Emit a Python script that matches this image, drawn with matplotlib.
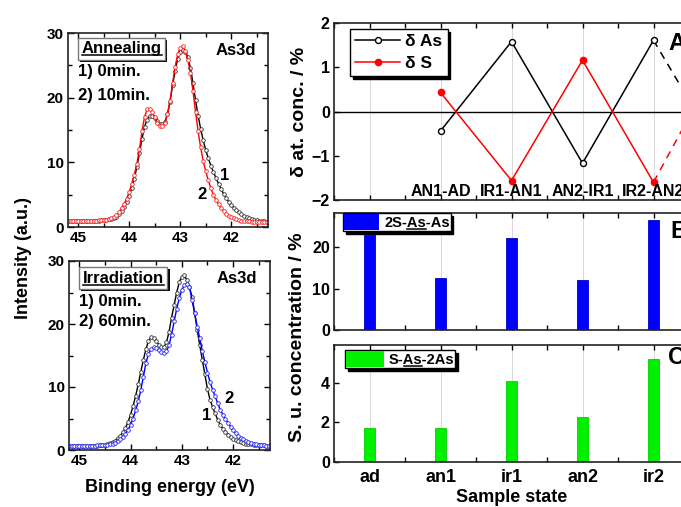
import numpy as np
import matplotlib
matplotlib.use('Agg')
import matplotlib.pyplot as plt
import matplotlib.patheffects as pe
from matplotlib.ticker import MultipleLocator
from matplotlib.lines import Line2D
from matplotlib.patches import Patch
from matplotlib.transforms import IdentityTransform

plt.rcParams['font.family'] = ['Liberation Sans', 'DejaVu Sans']
plt.rcParams['font.weight'] = 'bold'
plt.rcParams['axes.labelweight'] = 'bold'

# ---------------- data ----------------
# binding energy grid of the As3d spectra (eV), 45.20 -> 41.30 in 0.05 eV steps
energy = np.linspace(45.20, 41.30, 79)

anneal_0min = [0.90, 0.90, 0.90, 0.90, 0.90, 0.91, 0.91, 0.92, 0.93, 0.94, 0.96, 0.98, 1.00,
               1.03, 1.07, 1.12, 1.18, 1.28, 1.42, 1.62, 1.95, 2.40, 3.05, 3.85, 4.80,
               6.00, 7.50, 9.30, 11.40, 13.60, 15.50, 16.60, 17.15, 17.20, 16.90, 16.40, 16.00,
               15.90, 16.30, 17.50, 19.40, 21.90, 24.20, 26.00, 27.10,
               27.40, 27.10, 26.30, 24.60, 22.20, 19.60, 17.20, 15.20, 13.40, 11.90, 10.60, 9.50,
               8.50, 7.60, 6.70, 5.90, 5.10, 4.50, 3.90, 3.40,
               3.00, 2.60, 2.25, 1.95, 1.70, 1.50, 1.35, 1.22, 1.12, 1.03, 0.96, 0.90, 0.86, 0.83]
anneal_10min = [0.90, 0.90, 0.90, 0.90, 0.91, 0.91, 0.92, 0.93, 0.94, 0.96, 0.98, 1.00, 1.03,
                1.07, 1.11, 1.15, 1.20, 1.35, 1.55, 1.85, 2.30, 2.90, 3.60, 4.40, 5.40,
                6.70, 8.10, 9.80, 12.00, 14.80, 17.00, 18.20, 18.30, 17.80, 17.00, 16.10, 15.60,
                15.60, 16.10, 17.40, 19.50, 22.30, 24.80, 26.70, 27.70,
                28.00, 27.20, 25.80, 23.80, 21.00, 17.80, 14.80, 12.30, 10.20, 8.60, 7.20, 6.00,
                5.00, 4.20, 3.50, 2.90, 2.45, 2.05, 1.75, 1.50,
                1.32, 1.18, 1.08, 1.00, 0.95, 0.90, 0.86, 0.83, 0.80, 0.78, 0.76, 0.74, 0.73, 0.72]
irrad_0min = [0.60, 0.60, 0.60, 0.60, 0.61, 0.61, 0.62, 0.63, 0.64, 0.65, 0.66, 0.68, 0.72,
              0.78, 0.85, 0.95, 1.08, 1.25, 1.50, 1.90, 2.30, 2.80, 3.50, 4.40, 5.60,
              7.00, 8.60, 10.40, 12.40, 14.30, 16.00, 17.30, 17.90, 17.80, 17.30, 16.70, 16.30,
              16.30, 17.10, 18.70, 21.00, 23.00, 25.00, 26.60, 27.50,
              27.70, 27.00, 25.80, 24.30, 21.80, 19.10, 16.60, 14.30, 12.00, 9.70, 8.00, 6.80,
              5.80, 4.80, 4.00, 3.40, 2.90, 2.45, 2.10, 1.80,
              1.58, 1.40, 1.25, 1.12, 1.02, 0.95, 0.88, 0.83, 0.79, 0.76, 0.74, 0.72, 0.70, 0.69]
irrad_60min = [0.65, 0.65, 0.65, 0.65, 0.66, 0.66, 0.67, 0.68, 0.69, 0.70, 0.71, 0.72, 0.74,
               0.77, 0.81, 0.86, 0.92, 1.02, 1.18, 1.45, 1.75, 2.10, 2.60, 3.20, 4.00,
               5.00, 6.30, 7.70, 9.50, 11.60, 13.80, 15.30, 16.00, 16.30, 16.20, 15.80, 15.50,
               15.40, 15.70, 16.60, 18.30, 20.40, 22.40, 24.10, 25.40,
               26.20, 26.40, 25.80, 23.80, 21.70, 19.60, 17.70, 15.70, 14.00, 12.30, 10.80, 9.60,
               8.50, 7.40, 6.40, 5.60, 4.90, 4.30, 3.70, 3.10,
               2.65, 2.25, 1.95, 1.68, 1.45, 1.27, 1.13, 1.02, 0.92, 0.85, 0.78, 0.72, 0.68, 0.65]

# panel A: change of atomic concentration between consecutive states
transitions = ['AN1-AD', 'IR1-AN1', 'AN2-IR1', 'IR2-AN2']
trans_pos = [1, 2, 3, 4]
delta_as = [-0.44, 1.58, -1.17, 1.61]
delta_s = [0.43, -1.56, 1.16, -1.60]
# continuation (dashed) towards the next, off-canvas transition
next_pos = 5
delta_as_next = -1.1
delta_s_next = 1.35

# panels B and C: structural unit concentration per sample state
states = ['ad', 'an1', 'ir1', 'an2', 'ir2']
state_pos = [0, 1, 2, 3, 4]
conc_2s_as_as = [22.9, 12.5, 22.3, 12.1, 26.5]
conc_s_as_2as = [1.72, 1.69, 4.10, 2.28, 5.20]

W, H = 681, 507
fig = plt.figure(figsize=(W / 100, H / 100), dpi=100)


def px_axes(x0, y0, x1, y1):
    return fig.add_axes([x0 / W, 1 - y1 / H, (x1 - x0) / W, (y1 - y0) / H])


def style_spec(ax):
    ax.set_xlim(45.2, 41.28)
    ax.set_ylim(0, 30)
    ax.xaxis.set_major_locator(MultipleLocator(1))
    ax.xaxis.set_minor_locator(MultipleLocator(0.5))
    ax.yaxis.set_major_locator(MultipleLocator(10))
    ax.yaxis.set_minor_locator(MultipleLocator(5))
    ax.tick_params(which='both', direction='in', top=True, right=True,
                   width=1, labelsize=11, pad=3, colors='black')
    ax.tick_params(which='major', length=4)
    ax.tick_params(which='minor', length=3)
    for s in ax.spines.values():
        s.set_linewidth(1.2)
        s.set_color('#222222')


# underlines to be added after layout: (text artist, prefix before underlined part, underlined part)
underlines = []


def boxed_title(ax, x, y, s):
    t = ax.text(x, y, s, transform=ax.transAxes, ha='left', va='center',
                fontsize=12, fontweight='bold',
                bbox=dict(boxstyle='square,pad=0.22', fc='white', ec='#777777', lw=1.0))
    t.get_bbox_patch().set_path_effects(
        [pe.SimplePatchShadow(offset=(1.5, -1.5), shadow_rgbFace='black', alpha=1.0), pe.Normal()])
    underlines.append((t, '', s))
    return t


spec_kw = dict(lw=1.0, marker='o', ms=2.6, mfc='white', mew=0.6)

# ---------------- left top: annealing ----------------
ax1 = px_axes(68, 33, 268, 227)
ax1.plot(energy, anneal_0min, color='black', mec='#333333', **spec_kw)
ax1.plot(energy, anneal_10min, color='#ff0000', mec='#ff2020', **spec_kw)
style_spec(ax1)
boxed_title(ax1, 0.068, 0.918, 'Annealing')
ax1.text(0.05, 0.80, '1) 0min.', transform=ax1.transAxes, fontsize=12, va='center')
ax1.text(0.05, 0.68, '2) 10min.', transform=ax1.transAxes, fontsize=12, va='center')
ax1.text(0.94, 0.912, 'As3d', transform=ax1.transAxes, fontsize=12, ha='right', va='center')
ax1.text(42.13, 8.0, '1', fontsize=12, ha='center', va='center')
ax1.text(42.58, 4.95, '2', fontsize=12, ha='center', va='center')

# ---------------- left bottom: irradiation ----------------
ax2 = px_axes(69, 261, 270, 450)
ax2.plot(energy, irrad_0min, color='black', mec='#333333', **spec_kw)
ax2.plot(energy, irrad_60min, color='#0000ff', mec='#2020ff', **spec_kw)
style_spec(ax2)
boxed_title(ax2, 0.068, 0.91, 'Irradiation')
ax2.text(0.05, 0.785, '1) 0min.', transform=ax2.transAxes, fontsize=12, va='center')
ax2.text(0.05, 0.68, '2) 60min.', transform=ax2.transAxes, fontsize=12, va='center')
ax2.text(0.935, 0.908, 'As3d', transform=ax2.transAxes, fontsize=12, ha='right', va='center')
ax2.text(42.07, 8.2, '2', fontsize=12, ha='center', va='center')
ax2.text(42.52, 5.55, '1', fontsize=12, ha='center', va='center')

fig.text(24 / W, 1 - 258 / H, 'Intensity (a.u.)', rotation=90, ha='center', va='center', fontsize=13)
fig.text(170 / W, 1 - 487 / H, 'Binding energy (eV)', ha='center', va='center', fontsize=13)


# ---------------- right panels ----------------
def style_right(ax):
    ax.set_xlim(-0.5, 5.5)
    ax.xaxis.set_major_locator(MultipleLocator(1))
    ax.xaxis.set_minor_locator(MultipleLocator(0.5))
    ax.tick_params(which='both', direction='in', top=True, right=True, width=1,
                   length=3.5, labelsize=11.5, pad=3, colors='black')
    ax.grid(axis='x', which='major', color='#d8d8d8', lw=0.7, zorder=0)
    ax.set_axisbelow(True)
    for s in ax.spines.values():
        s.set_linewidth(1.2)
        s.set_color('#222222')


RX0, RX1 = 334, 760

axA = px_axes(RX0, 23, RX1, 200)
style_right(axA)
axA.set_ylim(-2, 2)
axA.yaxis.set_major_locator(MultipleLocator(1))
axA.tick_params(axis='x', labelbottom=False)
axA.axhline(0, color='black', lw=1.0, zorder=1)
axA.plot(trans_pos, delta_as, color='black', lw=1.1, marker='o', ms=4.3,
         mfc='white', mec='black', mew=1.0, zorder=3)
axA.plot(trans_pos, delta_s, color='#ff0000', lw=1.1, marker='o', ms=4.5,
         mfc='#ff0000', mec='#ff0000', zorder=3)
axA.plot([trans_pos[-1], next_pos], [delta_as[-1], delta_as_next], color='black', lw=1.1,
         ls=(0, (5, 4)), zorder=2)
axA.plot([trans_pos[-1], next_pos], [delta_s[-1], delta_s_next], color='#ff0000', lw=1.1,
         ls=(0, (5, 4)), zorder=2)
for p, lab in zip(trans_pos, transitions):
    axA.text(p, -1.8, lab, ha='center', va='center', fontsize=11.5)
legA = axA.legend(
    [Line2D([], [], color='black', lw=1.1, marker='o', ms=4.3, mfc='white', mec='black'),
     Line2D([], [], color='#ff0000', lw=1.1, marker='o', ms=4.5, mfc='#ff0000', mec='#ff0000')],
    ['δ As', 'δ S'], loc='upper left', bbox_to_anchor=(0.037, 0.966), borderaxespad=0,
    fontsize=12.5, handlelength=2.6, handletextpad=0.3, labelspacing=0.35,
    borderpad=0.3, fancybox=False, edgecolor='black', framealpha=1,
    shadow={'color': 'black', 'alpha': 1.0})
legA.get_frame().set_linewidth(1.0)
axA.text(0.784, 0.887, 'A', transform=axA.transAxes, fontsize=17, ha='left', va='center')

axB = px_axes(RX0, 213, RX1, 330)
style_right(axB)
axB.set_ylim(0, 28.3)
axB.yaxis.set_major_locator(MultipleLocator(10))
axB.tick_params(axis='x', labelbottom=False)
axB.bar(state_pos, conc_2s_as_as, width=0.16, color='#0000ff', edgecolor='#0000c8', lw=0.6, zorder=2)
legB = axB.legend([Patch(fc='#0000ff', ec='none')], ['2S-As-As'],
                  loc='upper left', bbox_to_anchor=(0.022, 0.997), borderaxespad=0,
                  fontsize=10.5, handlelength=2.4, handleheight=1.35, handletextpad=0.35,
                  borderpad=0.05, fancybox=False, edgecolor='black', framealpha=1,
                  shadow={'color': 'black', 'alpha': 1.0})
legB.get_frame().set_linewidth(1.0)
underlines.append((legB.get_texts()[0], '2S-', 'As'))
axB.text(0.789, 0.84, 'B', transform=axB.transAxes, fontsize=17, ha='left', va='center')

axC = px_axes(RX0, 345, RX1, 461.7)
style_right(axC)
axC.set_ylim(0, 5.9)
axC.yaxis.set_major_locator(MultipleLocator(2))
axC.bar(state_pos, conc_s_as_2as, width=0.16, color='#00f000', edgecolor='#00d000', lw=0.6, zorder=2)
axC.set_xticks(state_pos)
axC.set_xticklabels(states, fontsize=13)
axC.tick_params(axis='x', which='major', pad=5)
legC = axC.legend([Patch(fc='#00f000', ec='none')], ['S-As-2As'],
                  loc='upper left', bbox_to_anchor=(0.026, 0.957), borderaxespad=0,
                  fontsize=10.5, handlelength=2.6, handleheight=1.35, handletextpad=0.35,
                  borderpad=0.05, fancybox=False, edgecolor='black', framealpha=1,
                  shadow={'color': 'black', 'alpha': 1.0})
legC.get_frame().set_linewidth(1.0)
underlines.append((legC.get_texts()[0], 'S-', 'As'))
axC.text(0.784, 0.889, 'C', transform=axC.transAxes, fontsize=17, ha='left', va='center')

fig.text(300 / W, 1 - 111.5 / H, 'δ at. conc. / %', rotation=90, ha='center', va='center', fontsize=14)
fig.text(298 / W, 1 - 337 / H, 'S. u. concentration / %', rotation=90, ha='center', va='center', fontsize=14)
fig.text(512 / W, 1 - 497 / H, 'Sample state', ha='center', va='center', fontsize=13)

# ---------------- underline decoration (after layout) ----------------
fig.canvas.draw()
renderer = fig.canvas.get_renderer()
for t, prefix, word in underlines:
    fp = t.get_fontproperties()
    bb = t.get_window_extent(renderer)
    full = t.get_text()
    _, _, d_full = renderer.get_text_width_height_descent(full, fp, ismath=False)
    _, _, d_lp = renderer.get_text_width_height_descent('lp', fp, ismath=False)
    baseline = bb.y0 + max(d_full, d_lp)
    x0 = bb.x0 + (renderer.get_text_width_height_descent(prefix, fp, ismath=False)[0] if prefix else 0)
    x1 = x0 + renderer.get_text_width_height_descent(word, fp, ismath=False)[0]
    fs_px = fp.get_size_in_points() * fig.dpi / 72
    y = baseline - 0.12 * fs_px
    fig.add_artist(Line2D([x0, x1], [y, y], transform=IdentityTransform(),
                          color='black', lw=1.1, zorder=10))

fig.savefig('out.png', dpi=100)
